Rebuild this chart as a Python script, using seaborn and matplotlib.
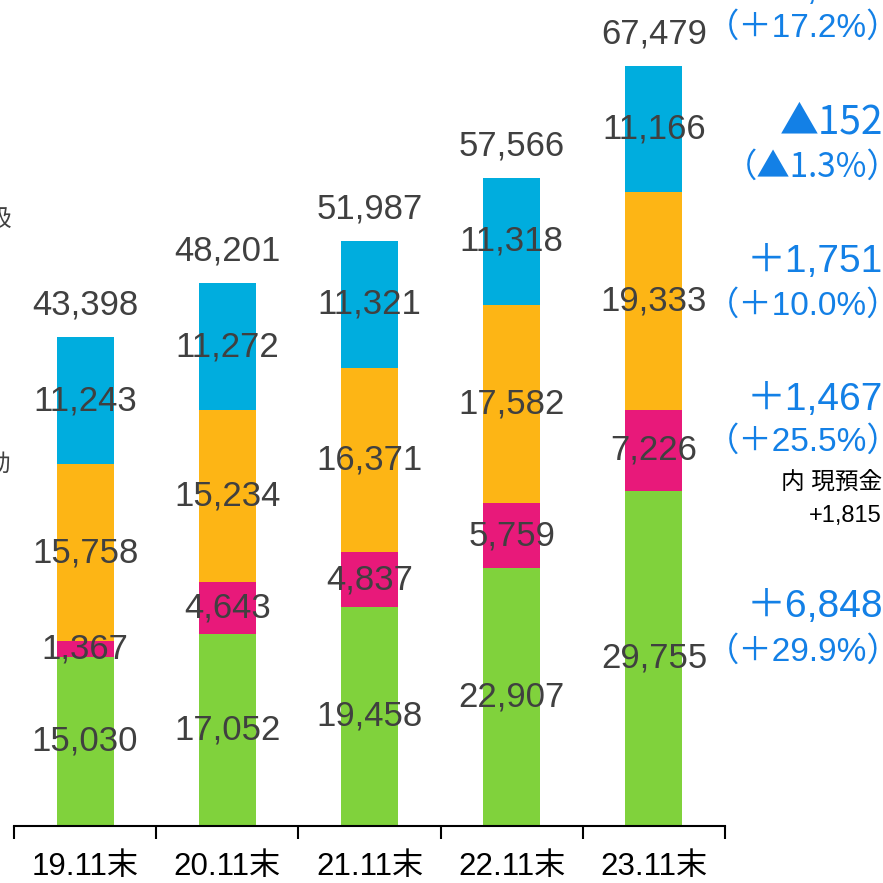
import matplotlib
matplotlib.use("Agg")
import pandas as pd
import seaborn as sns
from matplotlib import pyplot as plt
from matplotlib.ticker import FixedLocator

categories = ["19.11末", "20.11末", "21.11末", "22.11末", "23.11末"]
green_vals = [15030, 17052, 19458, 22907, 29755]
pink_vals = [1367, 4643, 4837, 5759, 7226]
orange_vals = [15758, 15234, 16371, 17582, 19333]
blue_vals = [11243, 11272, 11321, 11318, 11166]
totals = [43398, 48201, 51987, 57566, 67479]

# change vs previous year (right side notes), top to bottom
change_abs = ["＋9,913", "▲152", "＋1,751", "＋1,467", "＋6,848"]
change_pct = ["（＋17.2%）", "（▲1.3%）", "（＋10.0%）", "（＋25.5%）", "（＋29.9%）"]

GREEN = "#80D23C"
PINK = "#E8197A"
ORANGE = "#FDB515"
BLUE = "#00ADDE"
TXT = "#404040"
NOTE = "#1380E6"
FONTS = ["Liberation Sans", "Noto Sans CJK JP", "DejaVu Sans"]
# CJK font first where the text has the full-width triangle
TRI_FONTS = ["Noto Sans CJK JP", "Liberation Sans"]

sns.set_style("white")
plt.rcParams["font.family"] = FONTS

df = pd.DataFrame({
    "cat": categories,
    "green": green_vals,
    "pink": pink_vals,
    "orange": orange_vals,
    "blue": blue_vals,
})
df["c1"] = df["green"]
df["c2"] = df["c1"] + df["pink"]
df["c3"] = df["c2"] + df["orange"]
df["c4"] = df["c3"] + df["blue"]

W, H = 883, 883
fig = plt.figure(figsize=(W / 100, H / 100), dpi=100)
ax = fig.add_axes([14 / W, 57 / H, (725 - 14) / W, 826 / H])

# stacked bars drawn from the top segment down
for col, color in [("c4", BLUE), ("c3", ORANGE), ("c2", PINK), ("c1", GREEN)]:
    sns.barplot(data=df, x="cat", y=col, color=color, saturation=1,
                width=0.4, ax=ax, edgecolor="none")

ax.set_xlim(-0.5, 4.5)
ax.set_ylim(0, 73350)

# segment labels
for i in range(len(categories)):
    segs = [(0, df["c1"][i]), (df["c1"][i], df["c2"][i]),
            (df["c2"][i], df["c3"][i]), (df["c3"][i], df["c4"][i])]
    vals = [green_vals[i], pink_vals[i], orange_vals[i], blue_vals[i]]
    for (lo, hi), v in zip(segs, vals):
        ax.text(i, (lo + hi) / 2, f"{v:,}", ha="center", va="center",
                fontsize=25, color=TXT)
    ax.annotate(f"{totals[i]:,}", (i, df["c4"][i]), xytext=(0, 23),
                textcoords="offset points", ha="center", va="center",
                fontsize=25, color=TXT)

sns.despine(ax=ax, left=True, top=True, right=True)
ax.spines["bottom"].set_color("black")
ax.spines["bottom"].set_linewidth(1.5)
ax.set_yticks([])
ax.set_xlabel("")
ax.set_ylabel("")
ax.xaxis.set_minor_locator(FixedLocator([-0.5, 0.5, 1.5, 2.5, 3.5, 4.5]))
ax.tick_params(axis="x", which="minor", length=9, width=1.5, color="black",
               direction="out", bottom=True)
ax.tick_params(axis="x", which="major", length=0, pad=19, labelsize=22.5,
               labelcolor="black")


def fy(py):
    return 1 - py / H


# right side notes
abs_y = [-11, 122, 262, 400, 607]
pct_y = [28, 167, 306, 442, 652]
for txt, y in zip(change_abs, abs_y):
    fam = TRI_FONTS if "▲" in txt else FONTS
    fig.text(1.0, fy(y), txt, ha="right", va="center", fontsize=28,
             color=NOTE, family=fam)
for txt, y in zip(change_pct, pct_y):
    fam = TRI_FONTS if "▲" in txt else FONTS
    fig.text(1.02, fy(y), txt, ha="right", va="center", fontsize=24,
             color=NOTE, family=fam)
fig.text(0.999, fy(483), "内 現預金", ha="right", va="center", fontsize=17,
         color="black", family=FONTS)
fig.text(0.999, fy(516), "+1,815", ha="right", va="center", fontsize=17,
         color="black", family=FONTS)

# cut-off legend text at the left edge
fig.text(11 / W, fy(220), "扱", ha="right", va="center", fontsize=17,
         color=TXT, family=FONTS)
fig.text(11 / W, fy(465), "動", ha="right", va="center", fontsize=17,
         color=TXT, family=FONTS)

fig.savefig("out.png", dpi=100)
